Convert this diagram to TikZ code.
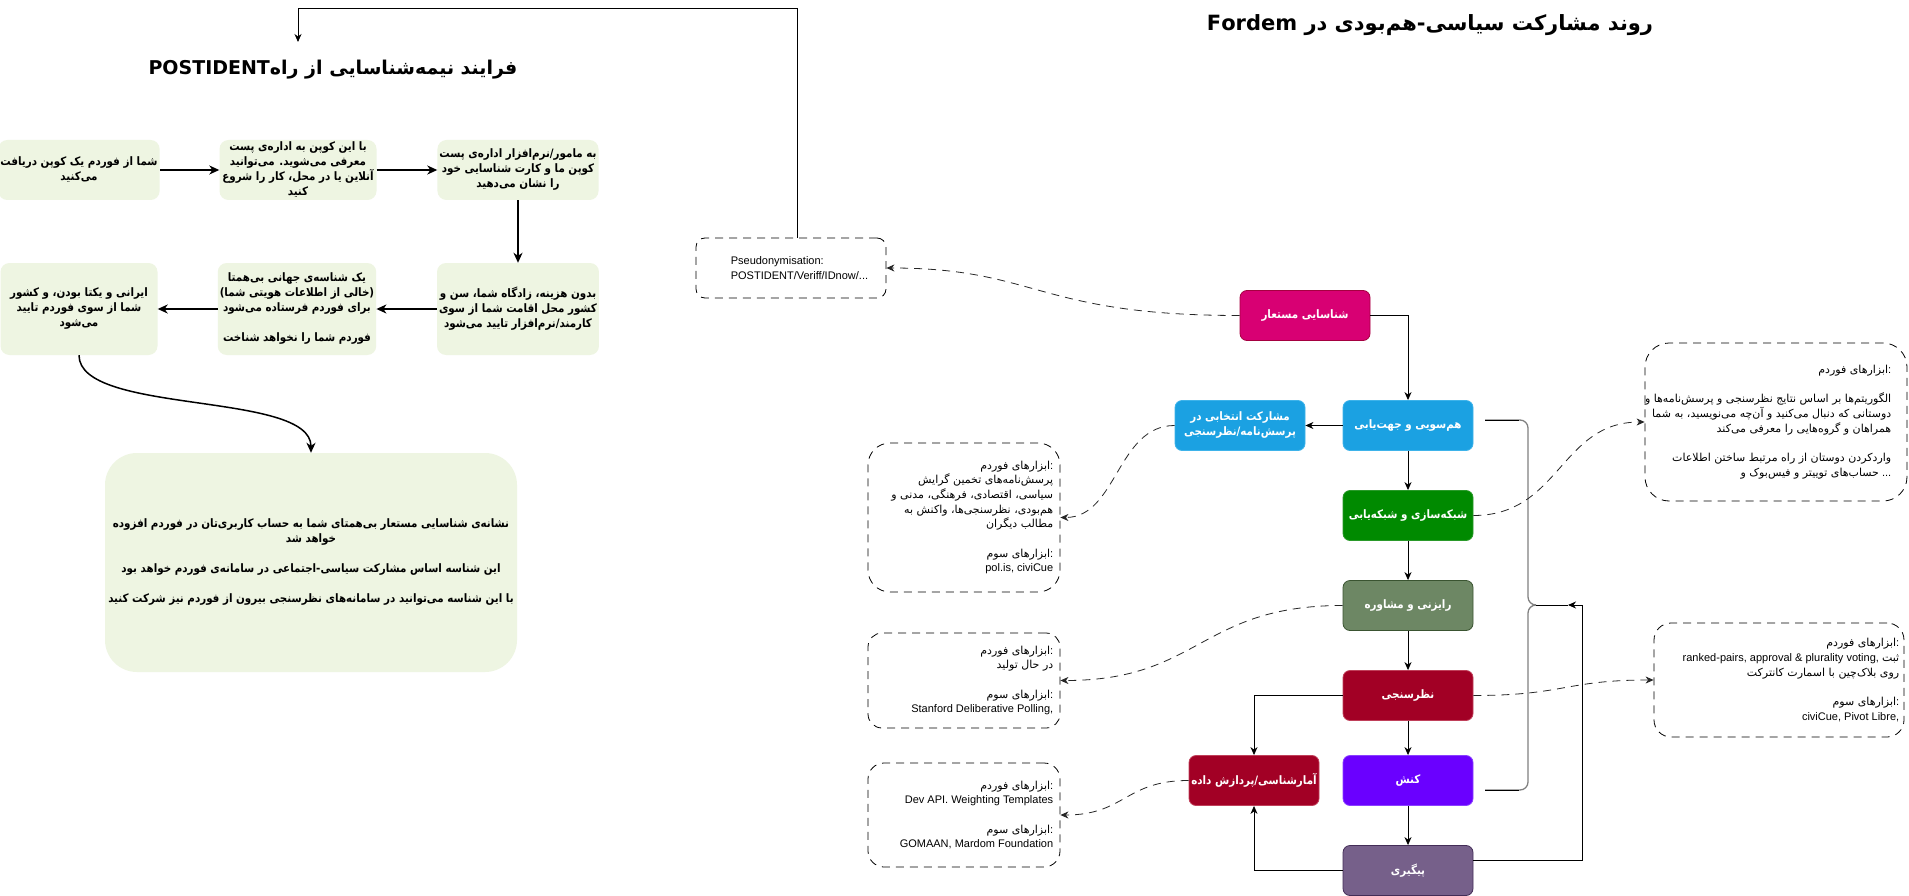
\documentclass[tikz,border=0pt]{standalone}
\usepackage{fontspec}
\setmainfont{Liberation Sans}
\newfontfamily\arf[Script=Arabic]{DejaVu Sans}
\newfontfamily\arfb[Script=Arabic,FakeStretch=0.89]{DejaVu Sans}
\TeXXeTstate=1
\usetikzlibrary{arrows.meta,calc}
\newcommand\fa[1]{\mbox{\arf\beginR #1\endR}}
\newcommand\fb[1]{\mbox{\arfb\beginR #1\endR}}
\definecolor{lgreen}{HTML}{EEF5E2}
\definecolor{cmag}{HTML}{D80073}\definecolor{bmag}{HTML}{A50040}
\definecolor{cblue}{HTML}{1BA1E2}\definecolor{bblue}{HTML}{3EB3EA}
\definecolor{cgreen}{HTML}{008A00}\definecolor{bgreen}{HTML}{2A9A2A}
\definecolor{colive}{HTML}{6D8764}\definecolor{bolive}{HTML}{3A5431}
\definecolor{cred}{HTML}{A20025}\definecolor{bred}{HTML}{C0405A}
\definecolor{cviol}{HTML}{6A00FF}\definecolor{bviol}{HTML}{8A40FF}
\definecolor{cpurp}{HTML}{76608A}\definecolor{bpurp}{HTML}{432D57}
\newcommand\lfont{\fontsize{11.6}{15}\selectfont\bfseries}
\newcommand\cfont{\fontsize{11.6}{15}\selectfont\bfseries}
\newcommand\dfont{\fontsize{11}{14.7}\selectfont}
\tikzset{
  lbox/.style={fill=lgreen, rounded corners=9pt, inner sep=2pt, align=center, font=\lfont, minimum width=157pt},
  cbox/.style={rounded corners=7pt, draw, line width=0.8pt, minimum width=130pt, minimum height=50pt, inner sep=2pt, align=center, text=white, font=\cfont},
  dbox/.style={draw=black, line width=0.8pt, dash pattern=on 8pt off 6pt, inner sep=0pt},
  dtext/.style={align=right, font=\dfont, inner sep=0pt},
  larr/.style={line width=1.5pt, -{Stealth[length=10pt,width=9pt,inset=3pt]}},
  rarr/.style={line width=0.9pt, -{Stealth[length=8pt,width=7pt,inset=2.5pt]}},
  darr/.style={line width=0.8pt, draw=black!85, dash pattern=on 8pt off 6pt, -{Stealth[length=8pt,width=7pt,inset=2.5pt]}},
  plain/.style={line width=0.9pt},
}
\begin{document}
\begin{tikzpicture}[x=1pt,y=-1pt]
\useasboundingbox (0,0) rectangle (1909,896);
\fill[white] (0,0) rectangle (1909,896);

% ---------- left part ----------
\node[font=\fontsize{19}{23}\selectfont\bfseries] (lt) at (333,70) {{\arf POSTIDENT}\fa{فرایند نیمه‌شناسایی از راه}};

\node[lbox, minimum height=60pt] (A) at (79,170) {\fb{شما از فوردم یک کوپن دریافت}\\\fb{می‌کنید}};
\node[lbox, minimum height=60pt] (B) at (298,170) {\fb{با این کوپن به اداره‌ی پست}\\\fb{معرفی می‌شوید. می‌توانید}\\\fb{آنلاین یا در محل، کار را شروع}\\\fb{کنید}};
\node[lbox, minimum height=60pt] (C) at (518,170) {\fb{به مامور/نرم‌افزار اداره‌ی پست}\\\fb{کوپن ما و کارت شناسایی خود}\\\fb{را نشان می‌دهید}};
\node[lbox, minimum height=92pt] (D) at (518,309) {\fb{بدون هزینه، زادگاه شما، سن و}\\\fb{کشور محل اقامت شما از سوی}\\\fb{کارمند/نرم‌افزار تایید می‌شود}};
\node[lbox, minimum height=92pt, minimum width=155pt] (E) at (297,309) {\fb{یک شناسه‌ی جهانی بی‌همتا}\\\fb{(خالی از اطلاعات هویتی شما)}\\\fb{برای فوردم فرستاده می‌شود}\\[15pt]\fb{فوردم شما را نخواهد شناخت}};
\node[lbox, minimum height=92pt] (F) at (79,309) {\fb{ایرانی و یکتا بودن، و کشور}\\\fb{شما از سوی فوردم تایید}\\\fb{می‌شود}};
\node[lbox, rounded corners=32pt, minimum width=412pt, minimum height=219pt] (G) at (311,562.5) {\fb{نشانه‌ی شناسایی مستعار بی‌همتای شما به حساب کاربری‌تان در فوردم افزوده}\\\fb{خواهد شد}\\[15pt]\fb{این شناسه اساس مشارکت سیاسی-اجتماعی در سامانه‌ی فوردم خواهد بود}\\[15pt]\fb{با این شناسه می‌توانید در سامانه‌های نظرسنجی بیرون از فوردم نیز شرکت کنید}};

\draw[larr] (A.east) -- (B.west);
\draw[larr] (B.east) -- (C.west);
\draw[larr] (C.south) -- (D.north);
\draw[larr] (D.west) -- (E.east);
\draw[larr] (E.west) -- (F.east);
\draw[larr] (F.south) .. controls +(0,60) and +(0,-62) .. (G.north);

% ---------- right part ----------
\node[font=\fontsize{21}{25}\selectfont\bfseries] (rt) at (1430,25) {{\arf Fordem }\fa{روند مشارکت سیاسی-هم‌بودی در}};

\node[dbox, rounded corners=9pt, minimum width=190pt, minimum height=60pt] (pb) at (791,268) {};
\node[dtext, align=left, anchor=west] (pbt) at ([xshift=35pt]pb.west) {Pseudonymisation:\\POSTIDENT/Veriff/IDnow/...};

\coordinate (topc) at (298,8);
\coordinate (tt) at (298,42);
\draw[rarr] ([xshift=6pt]pb.north) |- (topc) -- (tt);

\node[cbox, fill=cmag, draw=bmag] (ps) at (1305,315.5) {\fb{شناسایی مستعار}};
\node[cbox, fill=cblue, draw=bblue] (hs) at (1408,425.5) {\fb{هم‌سویی و جهت‌یابی}};
\node[cbox, fill=cblue, draw=bblue] (me) at (1240,425.5) {\fb{مشارکت انتخابی در}\\\fb{پرسش‌نامه/نظرسنجی}};
\node[cbox, fill=cgreen, draw=bgreen] (sh) at (1408,515.5) {\fb{شبکه‌سازی و شبکه‌یابی}};
\node[cbox, fill=colive, draw=bolive] (ra) at (1408,605.5) {\fb{رایزنی و مشاوره}};
\node[cbox, fill=cred, draw=bred] (na) at (1408,695.5) {\fb{نظرسنجی}};
\node[cbox, fill=cred, draw=bred] (am) at (1254,780.5) {\fb{آمارشناسی/پردازش داده}};
\node[cbox, fill=cviol, draw=bviol] (ko) at (1408,780.5) {\fb{کنش}};
\node[cbox, fill=cpurp, draw=bpurp] (pe) at (1408,870.5) {\fb{پیگیری}};

\draw[rarr] (ps.east) -| (hs.north);
\draw[rarr] (hs.west) -- (me.east);
\draw[rarr] (hs.south) -- (sh.north);
\draw[rarr] (sh.south) -- (ra.north);
\draw[rarr] (ra.south) -- (na.north);
\draw[rarr] (na.south) -- (ko.north);
\draw[rarr] (ko.south) -- (pe.north);
\draw[rarr] (na.west) -| (am.north);
\draw[rarr] (pe.west) -| (am.south);

% bracket and loop
\coordinate (bt1) at (1485,420);
\coordinate (bt2) at (1485,790);
\coordinate (btip) at (1536,605);
\coordinate (barr) at (1568,605);
\coordinate (lp) at (1582,605);
\draw[line width=1.3pt, draw=black!50, rounded corners=8pt] (bt1) -- (1528,420) -- (1528,605) -- (btip);
\draw[line width=1.3pt, draw=black!50, rounded corners=8pt] (bt2) -- (1528,790) -- (1528,605) -- (btip);
\draw[plain] (bt1) -- (1519,420);
\draw[plain] (bt2) -- (1519,790);
\draw[plain] (btip) -- (barr);
\draw[rarr] ([yshift=10pt]pe.east) -| (lp) -- (barr);

% dashed boxes
\node[dbox, rounded corners=22pt, minimum width=192pt, minimum height=149pt] (b2) at (964,517.5) {};
\node[dtext, anchor=east] (b2t) at ([xshift=-7pt]b2.east) {\fa{ابزارهای فوردم}:\\\fa{پرسش‌نامه‌های تخمین گرایش}\\\fa{سیاسی، اقتصادی، فرهنگی، مدنی و}\\\fa{هم‌بودی، نظرسنجی‌ها، واکنش به}\\\fa{مطالب دیگران}\\[14.7pt]\fa{ابزارهای سوم}:\\pol.is, civiCue};

\node[dbox, rounded corners=14pt, minimum width=192pt, minimum height=95pt] (b3) at (964,680.5) {};
\node[dtext, anchor=east] (b3t) at ([xshift=-7pt]b3.east) {\fa{ابزارهای فوردم}:\\\fa{در حال تولید}\\[14.7pt]\fa{ابزارهای سوم}:\\Stanford Deliberative Polling,};

\node[dbox, rounded corners=16pt, minimum width=192pt, minimum height=104pt] (b4) at (964,815) {};
\node[dtext, anchor=east] (b4t) at ([xshift=-7pt]b4.east) {\fa{ابزارهای فوردم}:\\Dev API. Weighting Templates\\[14.7pt]\fa{ابزارهای سوم}:\\GOMAAN, Mardom Foundation};

\node[dbox, rounded corners=24pt, minimum width=262pt, minimum height=158pt] (rb1) at (1776,422) {};
\node[dtext, anchor=east] (rb1t) at ([xshift=-16pt]rb1.east) {\fa{ابزارهای فوردم}:\\[14.7pt]\fa{الگوریتم‌ها بر اساس نتایج نظرسنجی و پرسش‌نامه‌ها و}\\\fa{دوستانی که دنبال می‌کنید و آن‌چه می‌نویسید، به شما}\\\fa{همراهان و گروه‌هایی را معرفی می‌کند}\\[14.7pt]\fa{واردکردن دوستان از راه مرتبط ساختن اطلاعات}\\\fa{حساب‌های توییتر و فیس‌بوک و} ...};

\node[dbox, rounded corners=17pt, minimum width=250pt, minimum height=114pt] (rb2) at (1779,680) {};
\node[dtext, anchor=east] (rb2t) at ([xshift=-5pt]rb2.east) {\fa{ابزارهای فوردم}:\\ranked-pairs, approval \& plurality voting, \fa{ثبت}\\\fa{روی بلاک‌چین با اسمارت کانترکت}\\[14.7pt]\fa{ابزارهای سوم}:\\civiCue, Pivot Libre,};

% dashed connectors
\draw[darr] (ps.west) .. controls (1037,315.5) and (1037,268) .. (pb.east);
\draw[darr] (me.west) .. controls (1117,425.5) and (1117,517.5) .. (b2.east);
\draw[darr] (sh.east) .. controls (1560,515.5) and (1560,422) .. (rb1.west);
\draw[darr] (ra.west) .. controls (1200,605.5) and (1200,680.5) .. (b3.east);
\draw[darr] (na.east) .. controls (1565,695.5) and (1565,680) .. (rb2.west);
\draw[darr] (am.west) .. controls (1125,780.5) and (1125,815) .. (b4.east);
\end{tikzpicture}
\end{document}
